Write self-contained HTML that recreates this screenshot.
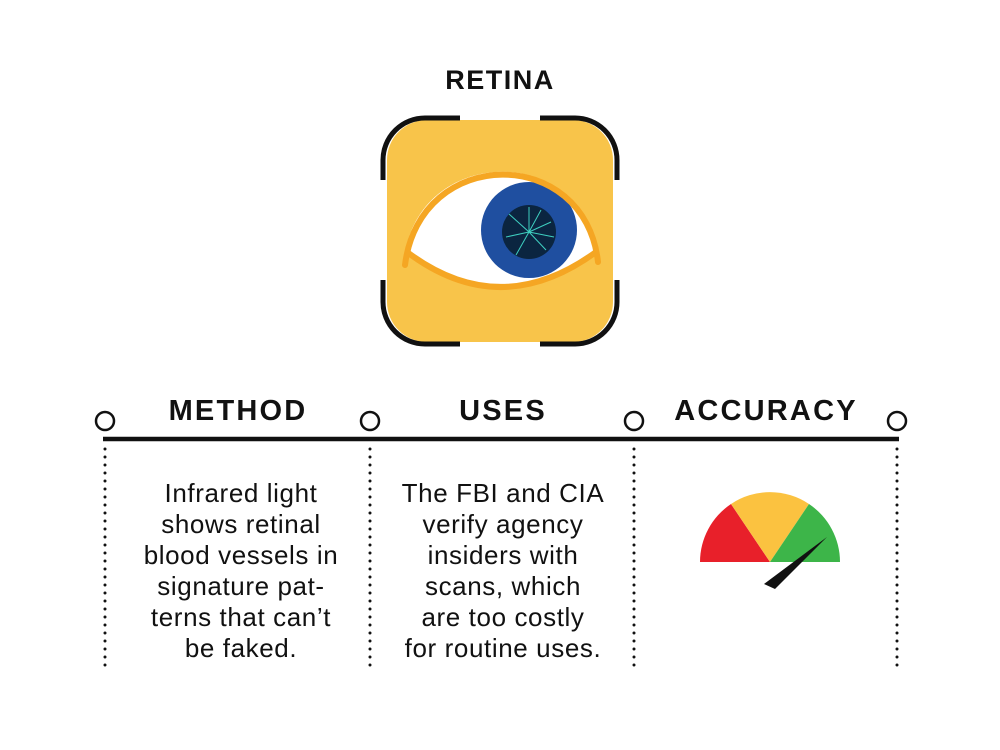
<!DOCTYPE html>
<html><head><style>
body{margin:0;background:#fff;}
svg{display:block}
text{font-family:"Liberation Sans",sans-serif;fill:#111}
.h{font-weight:bold;font-size:29px;letter-spacing:2.2px;text-anchor:middle}
.b{font-size:26px;letter-spacing:0.6px;text-anchor:middle}
</style></head><body>
<svg width="1000" height="750" viewBox="0 0 1000 750">
<text class="h" x="500" y="89" style="font-size:27px;letter-spacing:1.5px">RETINA</text>
<!-- icon -->
<rect x="387" y="120" width="226" height="222" rx="40" fill="#F8C44A"/>
<g fill="none" stroke="#111" stroke-width="5">
<path d="M383 180 V160 A42 42 0 0 1 425 118 H460"/>
<path d="M540 118 H575 A42 42 0 0 1 617 160 V180"/>
<path d="M383 280 V302 A42 42 0 0 0 425 344 H460"/>
<path d="M540 344 H575 A42 42 0 0 0 617 302 V280"/>
</g>
<clipPath id="c"><path d="M405 252 C425 145 580 145 598 252 Q500 320 405 252Z"/></clipPath>
<path d="M405 252 C425 145 580 145 598 252 Q500 320 405 252Z" fill="#fff"/>
<g clip-path="url(#c)">
<circle cx="529" cy="230" r="48" fill="#1F4FA0"/>
<circle cx="529" cy="232" r="27" fill="#0B2540"/>
<g stroke="#3ECFC0" stroke-width="1">
<path d="M529 232 L529 207 M529 232 L551 222 M529 232 L546 250 M529 232 L516 255 M529 232 L506 237 M529 232 L509 214 M529 232 L541 210 M529 232 L554 237"/>
</g>
</g>
<path d="M405 265 C420 145 585 145 598 262" fill="none" stroke="#F5A623" stroke-width="6" stroke-linecap="round"/>
<path d="M407 252 Q500 322 596 252" fill="none" stroke="#F5A623" stroke-width="6"/>
<!-- headers -->
<text class="h" x="238" y="420">METHOD</text>
<text class="h" x="503" y="420">USES</text>
<text class="h" x="766" y="420">ACCURACY</text>
<line x1="103" y1="439" x2="899" y2="439" stroke="#111" stroke-width="4.5"/>
<g fill="#fff" stroke="#111" stroke-width="2.5">
<circle cx="105" cy="421" r="9"/><circle cx="370" cy="421" r="9"/>
<circle cx="634" cy="421" r="9"/><circle cx="897" cy="421" r="9"/>
</g>
<g stroke="#111" stroke-width="3" stroke-dasharray="0 8" stroke-linecap="round">
<line x1="105" y1="449" x2="105" y2="666"/><line x1="370" y1="449" x2="370" y2="666"/>
<line x1="634" y1="449" x2="634" y2="666"/><line x1="897" y1="449" x2="897" y2="666"/>
</g>
<text class="b" x="241"><tspan x="241" y="502">Infrared light</tspan><tspan x="241" y="533">shows retinal</tspan><tspan x="241" y="564">blood vessels in</tspan><tspan x="241" y="595">signature pat-</tspan><tspan x="241" y="626">terns that can’t</tspan><tspan x="241" y="657">be faked.</tspan></text>
<text class="b" x="503"><tspan x="503" y="502">The FBI and CIA</tspan><tspan x="503" y="533">verify agency</tspan><tspan x="503" y="564">insiders with</tspan><tspan x="503" y="595">scans, which</tspan><tspan x="503" y="626">are too costly</tspan><tspan x="503" y="657">for routine uses.</tspan></text>
<!-- gauge -->
<path d="M770 562 L700 562 A70 70 0 0 1 731 504 Z" fill="#E8202A"/>
<path d="M770 562 L731 504 A70 70 0 0 1 809 504 Z" fill="#FBC240"/>
<path d="M770 562 L809 504 A70 70 0 0 1 840 562 Z" fill="#3DB549"/>
<path d="M827 537 L775 589 L764 584 Z" fill="#111"/>
</svg>
</body></html>
